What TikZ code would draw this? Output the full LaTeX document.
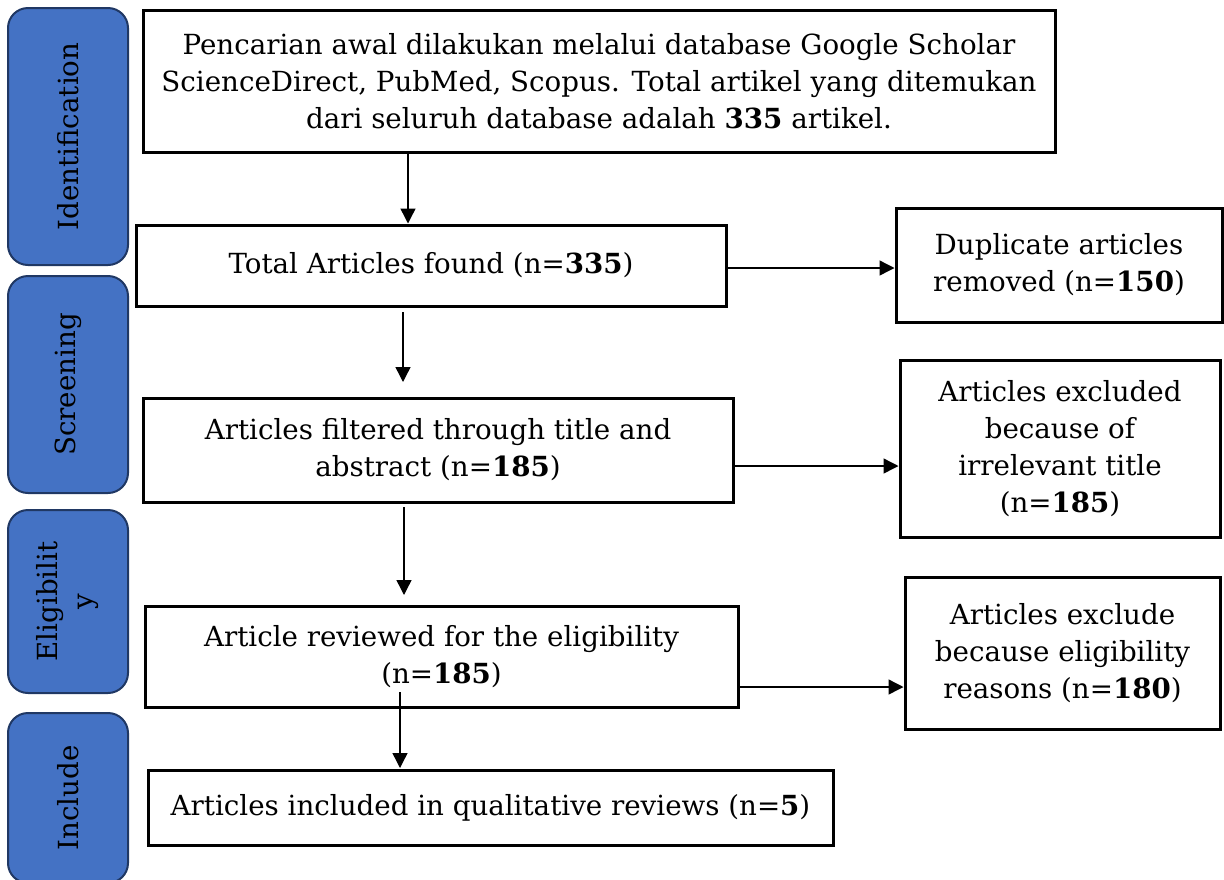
\documentclass[tikz,border=0pt]{standalone}
\usepackage{fontspec}
\setmainfont{DejaVu Serif}
\usetikzlibrary{arrows.meta}
\definecolor{sideblue}{RGB}{68,114,196}
\definecolor{sideedge}{RGB}{32,56,100}
\begin{document}
\begin{tikzpicture}[x=1pt,y=-1pt,
  box/.style={draw=black,line width=3pt,fill=white,inner sep=0pt,align=center,font=\fontsize{27.7}{37}\selectfont},
  side/.style={draw=sideedge,line width=2pt,fill=sideblue,rounded corners=20pt,inner sep=0pt,align=center},
  sidetext/.style={rotate=90,align=center,font=\fontsize{27.7}{35}\selectfont},
  arr/.style={-{Triangle[length=15pt,width=15pt]},line width=1.4pt}]
\useasboundingbox (0,0) rectangle (1224,879);
% side boxes
\node[side,minimum width=120pt,minimum height=257pt] (sid) at (68,136.5) {};
\node[sidetext] (tid) at (sid.center) {Identification};
\node[side,minimum width=120pt,minimum height=217pt] (ssc) at (68,384.5) {};
\node[sidetext] (tsc) at (ssc.center) {Screening};
\node[side,minimum width=120pt,minimum height=183pt] (sel) at (68,601.5) {};
\node[sidetext] (tel) at (sel.center) {Eligibilit\\y};
\node[side,minimum width=120pt,minimum height=170pt] (sin) at (68,798) {};
\node[sidetext] (tin) at (sin.center) {Include};
% main boxes
\node[box,minimum width=912pt,minimum height=142pt] (top) at (599,81) {Pencarian awal dilakukan melalui database Google Scholar\\ScienceDirect, PubMed, Scopus. Total artikel yang ditemukan\\dari seluruh database adalah \textbf{335} artikel.};
\node[box,minimum width=590pt,minimum height=81pt] (tot) at (431,265.5) {Total Articles found (n=\textbf{335})};
\node[box,minimum width=326pt,minimum height=114pt] (dup) at (1059,265) {Duplicate articles\\removed (n=\textbf{150})};
\node[box,minimum width=590pt,minimum height=104pt] (fil) at (438,450) {Articles filtered through title and\\abstract (n=\textbf{185})};
\node[box,minimum width=320pt,minimum height=177pt] (exc) at (1060,448.5) {Articles excluded\\because of\\irrelevant title\\(n=\textbf{185})};
\node[box,minimum width=593pt,minimum height=101pt] (rev) at (441.5,656.5) {Article reviewed for the eligibility\\(n=\textbf{185})};
\node[box,minimum width=315pt,minimum height=152pt] (ele) at (1062.5,653) {Articles exclude\\because eligibility\\reasons (n=\textbf{180})};
\node[box,minimum width=685pt,minimum height=75pt] (inc) at (490.5,807.5) {Articles included in qualitative reviews (n=\textbf{5})};
% connector helper coordinates
\coordinate (v1) at (408,0);
\coordinate (v2s) at (403,312);
\coordinate (v2e) at (403,382);
\coordinate (v3s) at (404,507);
\coordinate (v3e) at (404,595);
\coordinate (v4s) at (400,692);
\coordinate (v4e) at (400,768);
\coordinate (h1) at (0,268);
\coordinate (h2) at (0,466);
\coordinate (h3) at (0,687);
% connectors
\draw[arr] (top.south -| v1) -- (tot.north -| v1);
\draw[arr] (v2s) -- (v2e);
\draw[arr] (v3s) -- (v3e);
\draw[arr] (v4s) -- (v4e);
\draw[arr] (tot.east |- h1) -- (dup.west |- h1);
\draw[arr] (fil.east |- h2) -- (exc.west |- h2);
\draw[arr] (rev.east |- h3) -- (ele.west |- h3);
\end{tikzpicture}
\end{document}
